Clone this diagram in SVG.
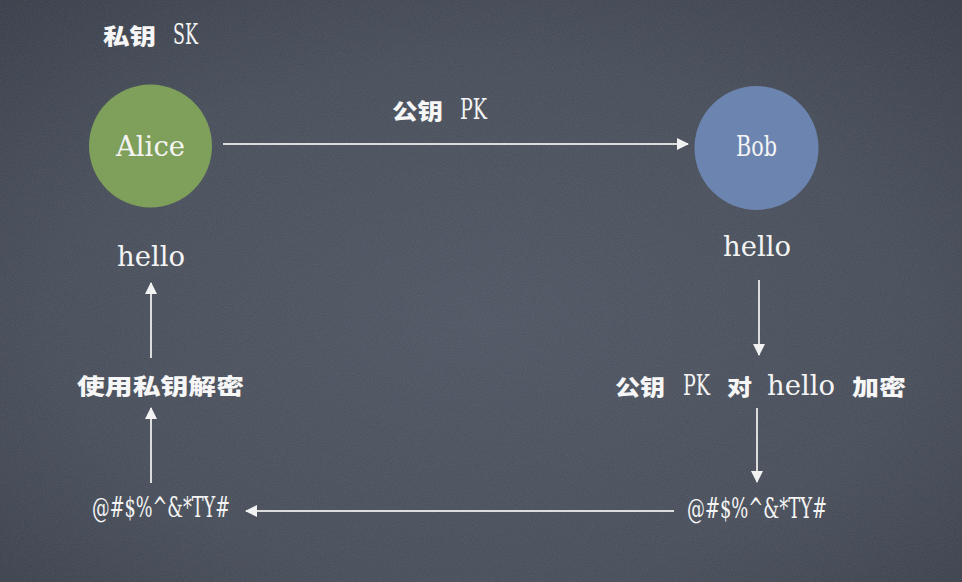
<svg xmlns="http://www.w3.org/2000/svg" width="962" height="582" viewBox="0 0 962 582">
<defs>
<radialGradient id="bg" cx="0.5" cy="0.55" r="0.75">
<stop offset="0" stop-color="#4c5360"/>
<stop offset="0.6" stop-color="#444b57"/>
<stop offset="1" stop-color="#343a45"/>
</radialGradient>
<filter id="noise" x="0" y="0" width="100%" height="100%">
<feTurbulence type="fractalNoise" baseFrequency="0.9" numOctaves="2" seed="3"/>
<feColorMatrix type="matrix" values="0 0 0 0 1  0 0 0 0 1  0 0 0 0 1  0 0 0 0.10 0"/>
</filter>
<marker id="ah" viewBox="0 0 12 12" refX="11" refY="6" markerWidth="12" markerHeight="12" markerUnits="userSpaceOnUse" orient="auto">
<path d="M0,0 L12,6 L0,12 Z" fill="#f2f2f2"/>
</marker>
<style>
.lat{font-family:"DejaVu Serif","Liberation Serif",serif;font-stretch:condensed;font-size:28px;fill:#f4f4f4}
.cjk{font-family:"Noto Sans CJK SC","Noto Sans CJK JP",sans-serif;font-size:22px;font-weight:900;fill:#f6f6f6}
.conn line{stroke:#dcdcdc;stroke-width:2;marker-end:url(#ah)}
</style>
</defs>
<rect width="962" height="582" fill="url(#bg)"/>
<rect width="962" height="582" filter="url(#noise)"/>

<g id="sk-label">
<text y="44"><tspan class="cjk" x="103" textLength="53" lengthAdjust="spacingAndGlyphs">私钥</tspan><tspan class="lat" x="173" textLength="25" lengthAdjust="spacingAndGlyphs">SK</tspan></text>
</g>

<g id="alice">
<circle cx="150.5" cy="146" r="61.5" fill="#7fa05b"/>
<text class="lat" x="116" y="156" textLength="69" lengthAdjust="spacingAndGlyphs">Alice</text>
</g>

<g id="bob">
<circle cx="756.5" cy="148" r="62" fill="#6c85b0"/>
<text class="lat" x="736" y="156" textLength="41" lengthAdjust="spacingAndGlyphs">Bob</text>
</g>

<g id="pk-label">
<text y="119"><tspan class="cjk" x="392" textLength="51" lengthAdjust="spacingAndGlyphs">公钥</tspan><tspan class="lat" x="460" textLength="27" lengthAdjust="spacingAndGlyphs">PK</tspan></text>
</g>

<g id="hello-bob">
<text class="lat" x="723" y="256" textLength="68" lengthAdjust="spacingAndGlyphs">hello</text>
</g>

<g id="encrypt">
<text y="395"><tspan class="cjk" x="615" textLength="50" lengthAdjust="spacingAndGlyphs">公钥</tspan><tspan class="lat" x="683" textLength="27" lengthAdjust="spacingAndGlyphs">PK</tspan><tspan class="cjk" x="727" textLength="25" lengthAdjust="spacingAndGlyphs">对</tspan><tspan class="lat" x="767" textLength="68" lengthAdjust="spacingAndGlyphs">hello</tspan><tspan class="cjk" x="852" textLength="54" lengthAdjust="spacingAndGlyphs">加密</tspan></text>
</g>

<g id="cipher-bob">
<text class="lat" x="687" y="518" textLength="140" lengthAdjust="spacingAndGlyphs">@#$%^&amp;*TY#</text>
</g>

<g id="cipher-alice">
<text class="lat" x="92" y="517" textLength="138" lengthAdjust="spacingAndGlyphs">@#$%^&amp;*TY#</text>
</g>

<g id="decrypt">
<text class="cjk" x="77" y="394" textLength="167" lengthAdjust="spacingAndGlyphs">使用私钥解密</text>
</g>

<g id="hello-alice">
<text class="lat" x="117" y="266" textLength="68" lengthAdjust="spacingAndGlyphs">hello</text>
</g>

<g id="connectors" class="conn">
<line x1="223" y1="144" x2="688" y2="144"/>
<line x1="759" y1="280" x2="759" y2="355"/>
<line x1="757" y1="408" x2="757" y2="482"/>
<line x1="674" y1="511" x2="246" y2="511"/>
<line x1="151" y1="483" x2="151" y2="408"/>
<line x1="151" y1="358" x2="151" y2="283"/>
</g>
</svg>
